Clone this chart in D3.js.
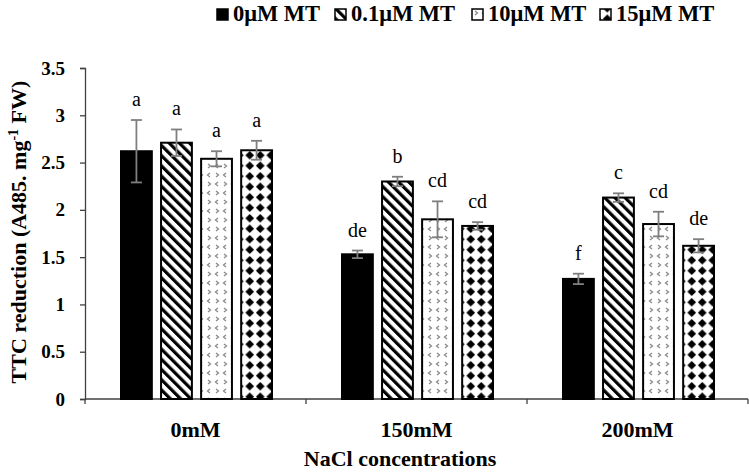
<!DOCTYPE html>
<html>
<head>
<meta charset="utf-8">
<script src="https://cdn.jsdelivr.net/npm/d3@7"></script>
<style>
  html, body { margin: 0; padding: 0; background: #fff; }
  svg { display: block; font-family: "Liberation Serif", "Times New Roman", serif; }
</style>
</head>
<body>
<svg id="chart" width="749" height="473"></svg>
<script>
const categories = ["0mM", "150mM", "200mM"];
const seriesNames = ["0\u03bcM MT", "0.1\u03bcM MT", "10\u03bcM MT", "15\u03bcM MT"];
const values = [
  [2.62, 2.71, 2.54, 2.63],
  [1.53, 2.30, 1.90, 1.83],
  [1.27, 2.13, 1.85, 1.62]
];
const errors = [
  [0.33, 0.14, 0.08, 0.10],
  [0.04, 0.05, 0.19, 0.04],
  [0.055, 0.045, 0.13, 0.07]
];
const letters = [
  ["a", "a", "a", "a"],
  ["de", "b", "cd", "cd"],
  ["f", "c", "cd", "de"]
];
const yTicks = [0, 0.5, 1, 1.5, 2, 2.5, 3, 3.5];

const svg = d3.select("#chart");
const mLeft = 85, mRight = 748, mTop = 68, mBottom = 399;

// patterns
const defs = svg.append("defs");
const stripe = defs.append("pattern").attr("id", "p1").attr("patternUnits", "userSpaceOnUse")
  .attr("width", 7.2).attr("height", 7.2).attr("patternTransform", "rotate(-45)");
stripe.append("rect").attr("width", 7.2).attr("height", 7.2).attr("fill", "#fff");
stripe.append("rect").attr("width", 3.2).attr("height", 7.2).attr("fill", "#000");

const chev = defs.append("pattern").attr("id", "p2").attr("patternUnits", "userSpaceOnUse")
  .attr("width", 16).attr("height", 18);
chev.append("rect").attr("width", 16).attr("height", 18).attr("fill", "#fff");
const chevPaths = ["M5,2 L2.5,4 L5,6", "M11,2 L13.5,4 L11,6", "M3,11 L5.5,13 L3,15", "M13,11 L10.5,13 L13,15"];
chevPaths.forEach(d => chev.append("path").attr("d", d).attr("fill", "none")
  .attr("stroke", "#8a8a8a").attr("stroke-width", 1.3));

const dia = defs.append("pattern").attr("id", "p3").attr("patternUnits", "userSpaceOnUse")
  .attr("width", 10.5).attr("height", 10.5).attr("x", 2).attr("y", 3);
dia.append("rect").attr("width", 10.5).attr("height", 10.5).attr("fill", "#fff");
dia.append("path").attr("d", "M5.25,0.9 L9.6,5.25 L5.25,9.6 L0.9,5.25 Z").attr("fill", "#000");

const fills = ["#000", "url(#p1)", "url(#p2)", "url(#p3)"];

const x0 = d3.scaleBand().domain(categories).range([mLeft, mRight]).padding(0);
const x1 = d3.scaleBand().domain(d3.range(seriesNames.length))
  .range([36, x0.bandwidth() - 34]).paddingInner(0.23).paddingOuter(0);
const y = d3.scaleLinear().domain([0, 3.5]).range([mBottom, mTop]);

// axes
const yAxis = d3.axisLeft(y).tickValues(yTicks).tickSize(5).tickFormat(d => d);
const gy = svg.append("g").attr("transform", `translate(${mLeft},0)`).call(yAxis);
gy.select(".domain").attr("stroke", "#404040").attr("stroke-width", 1.3);
gy.selectAll(".tick line").attr("stroke", "#404040").attr("stroke-width", 1.3);
gy.selectAll(".tick text").attr("font-family", "Liberation Serif, serif").attr("font-size", 19)
  .attr("font-weight", "bold").attr("fill", "#000").attr("x", -20);

const gx = svg.append("g").attr("transform", `translate(0,${mBottom})`);
gx.append("line").attr("x1", mLeft).attr("x2", mRight).attr("stroke", "#404040").attr("stroke-width", 1.3);
const bounds = categories.map(c => x0(c)).concat([mRight]);
gx.selectAll("line.tk").data(bounds).join("line").attr("class", "tk")
  .attr("x1", d => d).attr("x2", d => d).attr("y1", 0).attr("y2", 5)
  .attr("stroke", "#404040").attr("stroke-width", 1.3);
gx.selectAll("text.cat").data(categories).join("text").attr("class", "cat")
  .attr("x", d => x0(d) + x0.bandwidth() / 2).attr("y", 38)
  .attr("text-anchor", "middle").attr("font-size", 22).attr("font-weight", "bold").text(d => d);

// bars
const groups = svg.append("g").selectAll("g").data(categories).join("g")
  .attr("transform", d => `translate(${x0(d)},0)`);
groups.each(function(cat, ci) {
  const g = d3.select(this);
  values[ci].forEach((v, si) => {
    const bx = x1(si), bw = x1.bandwidth();
    g.append("rect").attr("x", bx).attr("y", y(v)).attr("width", bw).attr("height", y(0) - y(v))
      .attr("fill", fills[si]).attr("stroke", "#000").attr("stroke-width", 2);
    const e = errors[ci][si];
    const cx = bx + bw / 2;
    const eg = g.append("g").attr("stroke", "#7f7f7f").attr("stroke-width", 1.8);
    eg.append("line").attr("x1", cx).attr("x2", cx).attr("y1", y(v + e)).attr("y2", y(v - e));
    eg.append("line").attr("x1", cx - 5.5).attr("x2", cx + 5.5).attr("y1", y(v + e)).attr("y2", y(v + e));
    eg.append("line").attr("x1", cx - 5.5).attr("x2", cx + 5.5).attr("y1", y(v - e)).attr("y2", y(v - e));
    g.append("text").attr("x", cx).attr("y", y(v + e) - 14).attr("text-anchor", "middle")
      .attr("font-size", 20).text(letters[ci][si]);
  });
});

// axis titles
svg.append("text").attr("x", 400).attr("y", 466).attr("text-anchor", "middle")
  .attr("font-size", 22).attr("font-weight", "bold").text("NaCl concentrations");
const yt = svg.append("text").attr("transform", "translate(26,232) rotate(-90)")
  .attr("text-anchor", "middle").attr("font-size", 22).attr("font-weight", "bold");
yt.append("tspan").text("TTC reduction (A485. mg");
yt.append("tspan").attr("font-size", 14).attr("dy", -8).text("-1");
yt.append("tspan").attr("dy", 8).text(" FW)");

// legend
const legX = [217, 335, 472, 600];
const leg = svg.append("g").selectAll("g").data(seriesNames).join("g")
  .attr("transform", (d, i) => `translate(${legX[i]},0)`);
leg.append("rect").attr("x", 0).attr("y", 9).attr("width", 11).attr("height", 11)
  .attr("fill", (d, i) => fills[i]).attr("stroke", "#000").attr("stroke-width", 1.5);
leg.append("text").attr("x", 16).attr("y", 21).attr("font-size", 22.5).attr("font-weight", "bold").text(d => d);
</script>
</body>
</html>
